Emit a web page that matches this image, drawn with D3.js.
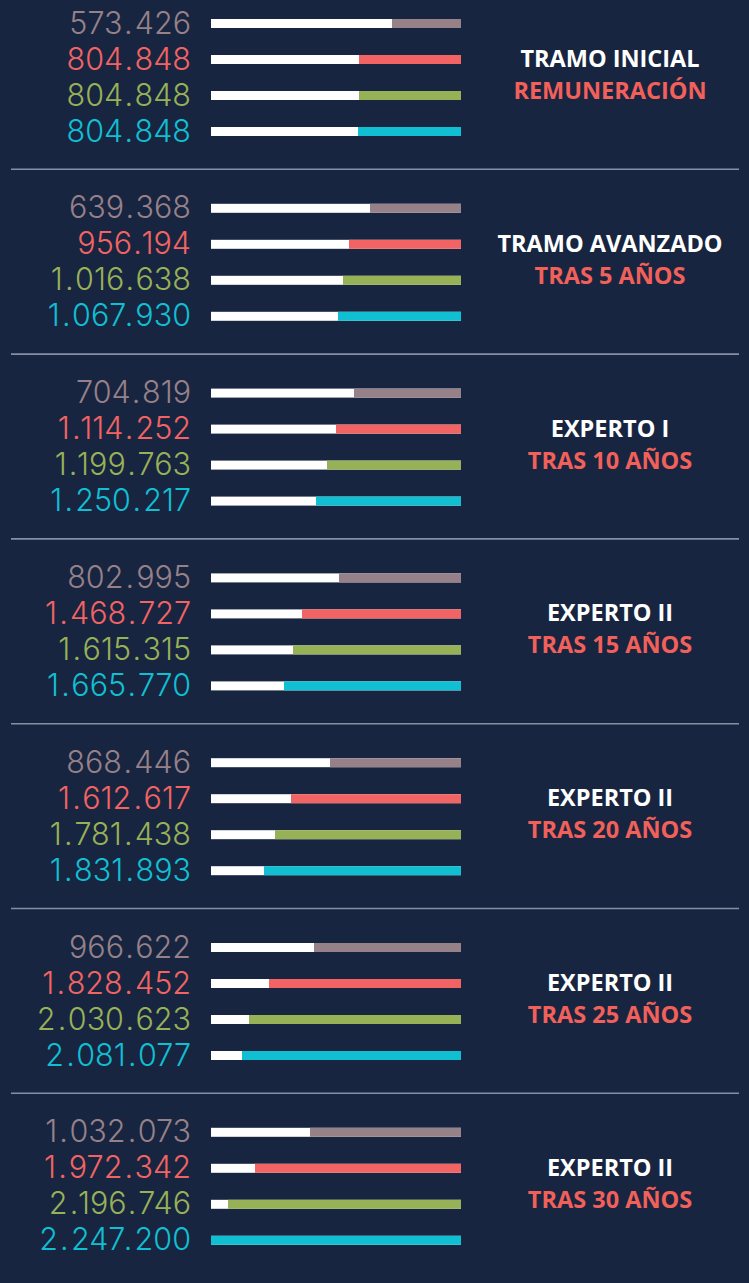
<!DOCTYPE html>
<html>
<head>
<meta charset="utf-8">
<script src="https://cdn.jsdelivr.net/npm/d3@7"></script>
<style>
  html, body { margin: 0; padding: 0; background: #182540; }
  svg { display: block; }
</style>
</head>
<body>
<div id="chart"></div>
<script>
// ---- Data ----
const titles = ["TRAMO INICIAL", "TRAMO AVANZADO", "EXPERTO I", "EXPERTO II", "EXPERTO II", "EXPERTO II", "EXPERTO II"];
const subtitles = ["REMUNERACIÓN", "TRAS 5 AÑOS", "TRAS 10 AÑOS", "TRAS 15 AÑOS", "TRAS 20 AÑOS", "TRAS 25 AÑOS", "TRAS 30 AÑOS"];
const seriesNames = ["serie1", "serie2", "serie3", "serie4"];

// values shown as labels
const serie1Values = [573426, 639368, 704819, 802995, 868446, 966622, 1032073];
const serie2Values = [804848, 956194, 1114252, 1468727, 1612617, 1828452, 1972342];
const serie3Values = [804848, 1016638, 1199763, 1615315, 1781438, 2030623, 2196746];
const serie4Values = [804848, 1067930, 1250217, 1665770, 1831893, 2081077, 2247200];

// coloured share of each bar (%)
const serie1Share = [27.6, 36.4, 42.8, 48.8, 52.4, 58.8, 60.4];
const serie2Share = [40.8, 44.8, 50.0, 63.6, 68.0, 76.8, 82.4];
const serie3Share = [40.8, 47.2, 53.6, 67.2, 74.4, 84.8, 93.2];
const serie4Share = [41.2, 49.2, 58.0, 70.8, 78.8, 87.6, 100];

// ---- Styling ----
const W = 749, H = 1283;
const colors = ["#968189", "#f26463", "#97b157", "#10bfd2"];
const titleColor = "#ffffff";
const subColor = "#f2605a";

const valuesBySeries = [serie1Values, serie2Values, serie3Values, serie4Values];
const shareBySeries = [serie1Share, serie2Share, serie3Share, serie4Share];

const locale = d3.formatLocale({decimal: ",", thousands: ".", grouping: [3], currency: ["", ""]});
const fmt = locale.format(",d");

const svg = d3.select("#chart").append("svg").attr("width", W).attr("height", H);
svg.append("rect").attr("width", W).attr("height", H).attr("fill", "#182540");

const groupStep = 184.8;
const yGroup = d3.scaleBand().domain(d3.range(titles.length)).range([0, groupStep * titles.length]).padding(0);
const yBar = d3.scaleBand().domain(seriesNames).range([0, 36 * 4]).padding(0);
const x = d3.scaleLinear().domain([0, 100]).range([211, 461]);
const barH = 9;
const barTop = 19;

const groups = svg.selectAll("g.grp").data(titles).join("g")
  .attr("class", "grp")
  .attr("transform", (d, i) => `translate(0,${yGroup(i)})`);

function addLabel(sel, str) {
  // split on periods so they can get a little extra room (wide dots as in the original)
  const parts = str.split(/(\.)/).filter(p => p.length);
  let prevDot = false;
  parts.forEach(p => {
    const ts = sel.append("tspan").text(p);
    if (p === "." || prevDot) ts.attr("dx", 2.2);
    prevDot = (p === ".");
  });
}

groups.each(function(t, gi) {
  const g = d3.select(this);
  seriesNames.forEach((s, si) => {
    const yTop = barTop + yBar(s);
    g.append("rect")
      .attr("x", x(0)).attr("y", yTop)
      .attr("width", x(100) - x(0)).attr("height", barH)
      .attr("fill", "#ffffff");
    const share = shareBySeries[si][gi];
    g.append("rect")
      .attr("x", x(100 - share)).attr("y", yTop)
      .attr("width", x(100) - x(100 - share)).attr("height", barH)
      .attr("fill", colors[si]);
    const tx = g.append("text")
      .attr("x", 191).attr("y", yTop + barH / 2 + 10)
      .attr("text-anchor", "end")
      .attr("font-family", "Inter, 'Open Sans', sans-serif")
      .attr("font-weight", 300)
      .attr("font-size", 30.5)
      .attr("fill", colors[si]);
    addLabel(tx, fmt(valuesBySeries[si][gi]));
  });
  g.append("text")
    .attr("x", 610).attr("y", 67)
    .attr("text-anchor", "middle")
    .attr("font-family", "'Open Sans', sans-serif")
    .attr("font-weight", 700)
    .attr("font-size", 23.5)
    .attr("fill", titleColor)
    .text(t);
  g.append("text")
    .attr("x", 610).attr("y", 99)
    .attr("text-anchor", "middle")
    .attr("font-family", "'Open Sans', sans-serif")
    .attr("font-weight", 700)
    .attr("font-size", 23.5)
    .attr("fill", subColor)
    .text(subtitles[gi]);
  if (gi < titles.length - 1) {
    g.append("line")
      .attr("x1", 11).attr("x2", 739)
      .attr("y1", 169.3).attr("y2", 169.3)
      .attr("stroke", "#858ea3").attr("stroke-width", 1.6);
  }
});
</script>
</body>
</html>
